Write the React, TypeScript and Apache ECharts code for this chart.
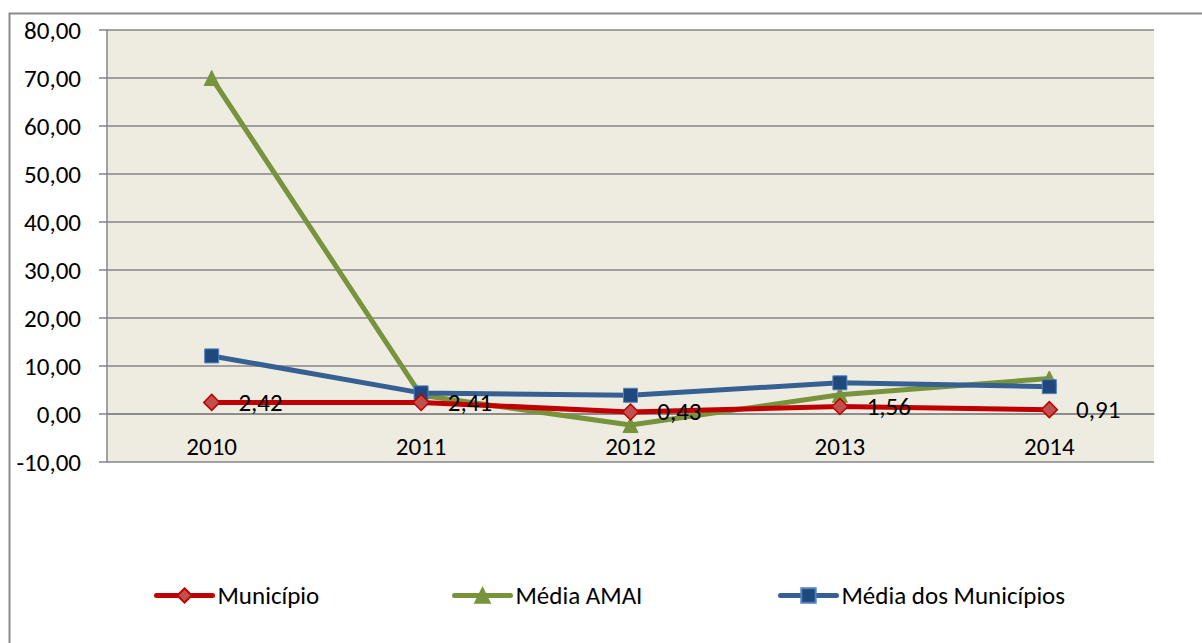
import React, { useEffect, useRef } from "react";
import * as echarts from "echarts";

const categories = ["2010", "2011", "2012", "2013", "2014"];
const municipio = [2.42, 2.41, 0.43, 1.56, 0.91];
const mediaAmai = [70.0, 3.9, -2.3, 4.0, 7.4];
const mediaMunicipios = [12.1, 4.4, 3.9, 6.5, 5.7];
const seriesNames = ["Município", "Média AMAI", "Média dos Municípios"];
const yMin = -10;
const yMax = 80;
const yInterval = 10;

const FONT = "Carlito, Lato, 'Liberation Sans', sans-serif";
const FS = 25;
const fmt = (v: number) => v.toFixed(2).replace(".", ",");

export default function App() {
  const ref = useRef<HTMLDivElement>(null);
  useEffect(() => {
    if (!ref.current) return;
    const chart = echarts.init(ref.current, undefined, { renderer: "svg" });
    const legendLeft = [154, 452, 778];
    chart.setOption({
      animation: false,
      backgroundColor: "#ffffff",
      textStyle: { fontFamily: FONT },
      graphic: [
        {
          type: "rect",
          shape: { x: 9.5, y: 13.5, width: 1400, height: 800 },
          style: { fill: "none", stroke: "#8a8a8a", lineWidth: 2 },
          silent: true,
          z: -10,
        },
      ],
      grid: {
        left: 107,
        top: 30,
        right: 48,
        bottom: 181,
        show: true,
        backgroundColor: "#EEECE1",
        borderWidth: 0,
      },
      legend: seriesNames.map((n, i) => ({
        left: legendLeft[i],
        top: 583,
        padding: 0,
        itemWidth: 56,
        itemHeight: 18,
        itemGap: 0,
        textStyle: { fontFamily: FONT, fontSize: FS, color: "#000" },
        lineStyle: { width: 5, cap: "round" },
        data: [n],
      })),
      xAxis: {
        type: "category",
        data: categories,
        boundaryGap: true,
        offset: -48,
        axisLine: { onZero: false, lineStyle: { color: "#868686", width: 1.5 } },
        axisTick: { show: false },
        axisLabel: { color: "#000", fontFamily: FONT, fontSize: FS, margin: 20 },
        splitLine: { show: false },
      },
      yAxis: {
        type: "value",
        min: yMin,
        max: yMax,
        interval: yInterval,
        axisLine: { show: true, lineStyle: { color: "#868686", width: 1.5 } },
        axisTick: { show: true, inside: false, length: 8, lineStyle: { color: "#868686", width: 1.5 } },
        axisLabel: {
          color: "#000",
          fontFamily: FONT,
          fontSize: FS,
          margin: 26,
          formatter: (v: number) => fmt(v),
        },
        splitLine: { show: true, lineStyle: { color: "#868686", width: 1.5 } },
      },
      series: [
        {
          name: seriesNames[0],
          type: "line",
          data: municipio,
          symbol: "diamond",
          symbolSize: 16,
          lineStyle: { color: "#C00000", width: 5 },
          itemStyle: { color: "#C0504D", borderColor: "#C00000", borderWidth: 1.5 },
          label: {
            show: true,
            position: "right",
            distance: 18,
            color: "#000",
            fontFamily: FONT,
            fontSize: FS,
            formatter: (p: any) => fmt(p.value),
          },
          z: 3,
        },
        {
          name: seriesNames[1],
          type: "line",
          data: mediaAmai,
          symbol: "triangle",
          symbolSize: 15,
          lineStyle: { color: "#77933C", width: 5 },
          itemStyle: { color: "#77933C", borderColor: "#77933C", borderWidth: 1 },
          z: 2,
        },
        {
          name: seriesNames[2],
          type: "line",
          data: mediaMunicipios,
          symbol: "rect",
          symbolSize: 14,
          lineStyle: { color: "#376092", width: 5 },
          itemStyle: { color: "#1F497D", borderColor: "#4F81BD", borderWidth: 1 },
          z: 2,
        },
      ],
    });
    return () => chart.dispose();
  }, []);
  return (
    <div
      ref={ref}
      style={{ position: "fixed", left: 0, top: 0, width: 1202, height: 643 }}
    />
  );
}
